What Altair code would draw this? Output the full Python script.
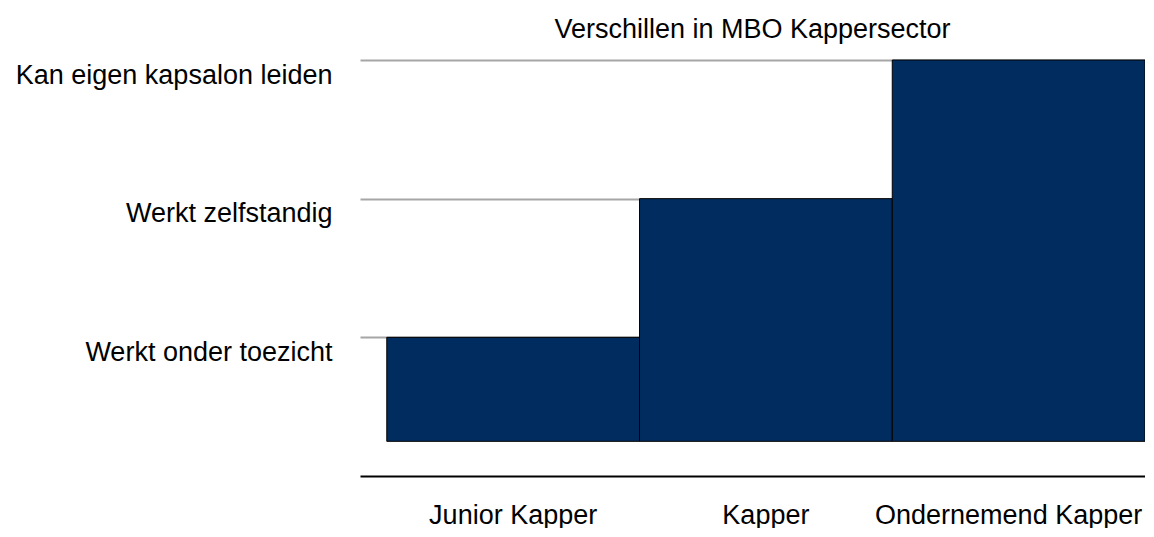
import altair as alt
import pandas as pd

categories = ["Junior Kapper", "Kapper", "Ondernemend Kapper"]
levels = [1, 2, 3]
level_names = ["Werkt onder toezicht", "Werkt zelfstandig", "Kan eigen kapsalon leiden"]
base_level = 0.25
title_text = "Verschillen in MBO Kappersector"

df = pd.DataFrame({"cat": categories, "level": levels})

label_expr = " : ".join(
    f"datum.value == {v} ? '{n}'" for v, n in zip(levels, level_names)
) + " : ''"

FONT = "Liberation Sans"
FS = 27

chart = (
    alt.Chart(df)
    .mark_bar(color="#002C5F", stroke="#000000", strokeWidth=1)
    .encode(
        x=alt.X(
            "cat:N",
            sort=categories,
            scale=alt.Scale(paddingInner=0, paddingOuter=0.053, align=1),
            axis=alt.Axis(
                title=None,
                labelAngle=0,
                domainColor="#000000",
                domainWidth=2,
                ticks=False,
                grid=False,
                labelFontSize=FS,
                labelFont=FONT,
                labelColor="#000000",
                labelPadding=26,
                labelLimit=0,
                labelOffset=alt.expr("datum.index == 1 ? -10 : 0"),
            ),
        ),
        y=alt.Y(
            "level:Q",
            scale=alt.Scale(domain=[0, 3], nice=False, zero=False),
            axis=alt.Axis(
                title=None,
                values=levels,
                labelExpr=label_expr,
                grid=True,
                gridColor="#a6a6a6",
                gridWidth=2,
                domain=False,
                ticks=False,
                labelOffset=15,
                labelPadding=28,
                labelFontSize=FS,
                labelFont=FONT,
                labelColor="#000000",
                labelLimit=0,
            ),
        ),
        y2=alt.datum(base_level),
    )
    .properties(
        width=785,
        height=416,
        autosize="none",
        background="white",
        padding={"left": 352, "top": 52, "right": 0, "bottom": 52},
        title=alt.TitleParams(
            text=title_text,
            font=FONT,
            fontSize=FS,
            fontWeight="normal",
            color="#000000",
            anchor="middle",
            offset=16,
        ),
    )
    .configure_view(stroke=None, strokeWidth=0)
)

chart.save("out.html", embed_options={"renderer": "svg", "actions": False})
